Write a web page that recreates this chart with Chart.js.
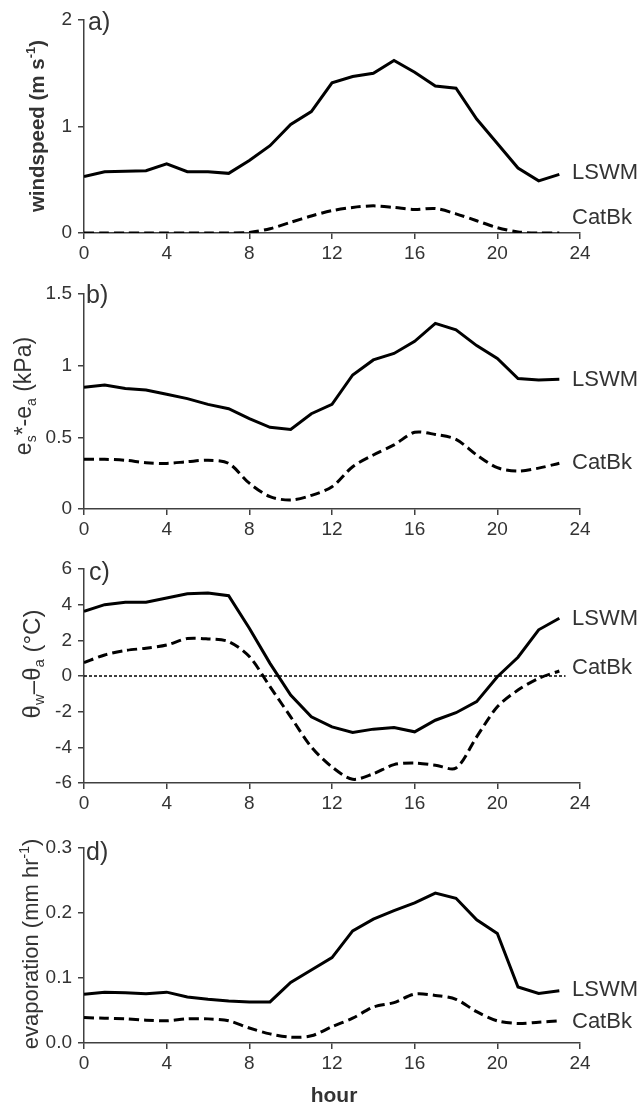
<!DOCTYPE html>
<html>
<head>
<meta charset="utf-8">
<script src="https://cdn.jsdelivr.net/npm/chart.js@4/dist/chart.umd.min.js"></script>
<style>
  body { margin: 0; background: #fff; width: 644px; height: 1108px; position: relative; overflow: hidden; }
  canvas { position: absolute; left: 0; }
</style>
</head>
<body>
<canvas id="pa" width="644" height="270" style="top:0px"></canvas>
<canvas id="pb" width="644" height="280" style="top:270px"></canvas>
<canvas id="pc" width="644" height="280" style="top:550px"></canvas>
<canvas id="pd" width="644" height="278" style="top:830px"></canvas>
<script>
// ========== DATA ==========
const hours = [0, 1, 2, 3, 4, 5, 6, 7, 8, 9, 10, 11, 12, 13, 14, 15, 16, 17, 18, 19, 20, 21, 22, 23];
const hourTicks = [0, 4, 8, 12, 16, 20, 24];

// a) windspeed (m s-1)
const windLSWM = [0.53, 0.575, 0.58, 0.585, 0.65, 0.575, 0.575, 0.56, 0.68, 0.82, 1.02, 1.14, 1.41, 1.47, 1.50, 1.62, 1.51, 1.38, 1.36, 1.07, 0.84, 0.61, 0.49, 0.55];
const windCatBk = [0, 0, 0, 0, 0, 0, 0, 0, 0.005, 0.04, 0.10, 0.16, 0.21, 0.24, 0.255, 0.24, 0.22, 0.23, 0.18, 0.115, 0.05, 0.01, 0, 0];
const windTicks = [0, 1, 2];

// b) es*-ea (kPa)
const vpdLSWM = [0.85, 0.865, 0.84, 0.83, 0.80, 0.77, 0.73, 0.70, 0.63, 0.57, 0.555, 0.665, 0.73, 0.935, 1.04, 1.085, 1.17, 1.295, 1.25, 1.14, 1.05, 0.91, 0.90, 0.905];
const vpdCatBk = [0.347, 0.347, 0.34, 0.323, 0.318, 0.33, 0.34, 0.318, 0.18, 0.086, 0.063, 0.095, 0.155, 0.295, 0.377, 0.447, 0.535, 0.52, 0.486, 0.377, 0.288, 0.265, 0.285, 0.319];
const vpdTicks = [0, 0.5, 1, 1.5];

// c) theta_w - theta_a (°C)
const tempLSWM = [3.62, 4.0, 4.14, 4.14, 4.37, 4.61, 4.65, 4.5, 2.68, 0.71, -1.07, -2.29, -2.85, -3.17, -2.98, -2.89, -3.13, -2.48, -2.06, -1.44, -0.04, 1.05, 2.59, 3.24];
const tempCatBk = [0.75, 1.18, 1.43, 1.56, 1.74, 2.1, 2.08, 1.93, 1.09, -0.6, -2.29, -3.98, -5.1, -5.79, -5.48, -4.97, -4.88, -5.0, -5.16, -3.41, -1.73, -0.79, -0.13, 0.28];
const tempTicks = [-6, -4, -2, 0, 2, 4, 6];
const zeroLineX = [0, 23.3];

// d) evaporation (mm hr-1)
const evapLSWM = [0.0746, 0.078, 0.077, 0.0756, 0.078, 0.0706, 0.067, 0.0645, 0.063, 0.063, 0.093, 0.112, 0.131, 0.172, 0.19, 0.203, 0.215, 0.23, 0.222, 0.189, 0.168, 0.086, 0.076, 0.08];
const evapCatBk = [0.039, 0.038, 0.037, 0.035, 0.034, 0.037, 0.037, 0.034, 0.023, 0.014, 0.009, 0.011, 0.025, 0.038, 0.055, 0.062, 0.075, 0.073, 0.067, 0.048, 0.034, 0.03, 0.032, 0.034];
const evapTicks = [0, 0.1, 0.2, 0.3];

// ========== HELPERS ==========
const FONT = "'Liberation Sans', Arial, sans-serif";
const AXIS = '#404040';
const TEXT = '#333333';

const toPts = arr => hours.map((h, i) => ({ x: h, y: arr[i] }));

const solid = arr => ({
  data: toPts(arr), borderColor: '#000', borderWidth: 3, pointRadius: 0, tension: 0
});
const dashed = arr => ({
  data: toPts(arr), borderColor: '#000', borderWidth: 3, pointRadius: 0,
  borderDash: [10, 5], tension: 0.3
});

// draws text made of parts with sub / superscripts, rotated bottom-to-top
function drawRotatedTitle(ctx, parts, cx, cy, size, weight) {
  ctx.save();
  ctx.translate(cx, cy);
  ctx.rotate(-Math.PI / 2);
  ctx.textBaseline = 'middle';
  ctx.textAlign = 'left';
  const fontFor = p => `${weight} ${p.sub || p.sup ? Math.round(size * 0.62) : size}px ${FONT}`;
  let total = 0;
  parts.forEach(p => { ctx.font = fontFor(p); total += ctx.measureText(p.t).width; });
  let xx = -total / 2;
  parts.forEach(p => {
    ctx.font = fontFor(p);
    let dy = 0;
    if (p.sub) dy = size * 0.3;
    if (p.sup) dy = -size * 0.32;
    ctx.fillText(p.t, xx, dy);
    xx += ctx.measureText(p.t).width;
  });
  ctx.restore();
}

const annot = {
  id: 'annot',
  afterDraw(chart, args, opt) {
    const { ctx, chartArea } = chart;
    const xs = chart.scales.x, ys = chart.scales.y;
    ctx.save();
    ctx.fillStyle = TEXT;
    ctx.textBaseline = 'middle';
    ctx.textAlign = 'left';

    // panel letter
    ctx.font = `25px ${FONT}`;
    ctx.fillText(opt.letter, chartArea.left + opt.letterDx, chartArea.top + opt.letterDy);

    // series names at the right end
    ctx.font = `22px ${FONT}`;
    opt.names.forEach(n => {
      ctx.fillText(n.text, xs.getPixelForValue(24) - 8, ys.getPixelForValue(n.at));
    });

    // y title
    drawRotatedTitle(ctx, opt.title, opt.titleX, opt.titleY, opt.titleSize, opt.titleWeight);

    // x title
    if (opt.xTitle) {
      ctx.font = `bold 21px ${FONT}`;
      ctx.textAlign = 'center';
      ctx.fillText(opt.xTitle, (chartArea.left + chartArea.right) / 2 + 2, chartArea.bottom + 53);
    }
    ctx.restore();
  }
};

function makePanel(id, p) {
  return new Chart(document.getElementById(id), {
    type: 'line',
    data: { datasets: p.datasets },
    options: {
      responsive: false,
      animation: false,
      layout: { padding: { top: p.top, right: 64, left: 0, bottom: 0 } },
      plugins: { legend: { display: false }, tooltip: { enabled: false }, annot: p.annot },
      scales: {
        x: {
          type: 'linear', min: 0, max: 24,
          afterBuildTicks: s => { s.ticks = hourTicks.map(v => ({ value: v })); },
          afterFit: s => { s.height = p.xh; },
          grid: { drawOnChartArea: false, drawTicks: true, tickLength: 6, color: AXIS, lineWidth: 1.5 },
          border: { color: AXIS, width: 1.5 },
          ticks: { font: { size: 19, family: FONT }, color: TEXT, padding: 3, maxRotation: 0 }
        },
        y: {
          min: p.yMin, max: p.yMax,
          afterBuildTicks: s => { s.ticks = p.yTicks.map(v => ({ value: v })); },
          afterFit: s => { s.width = 84; },
          grid: { drawOnChartArea: false, drawTicks: true, tickLength: 6, color: AXIS, lineWidth: 1.5 },
          border: { color: AXIS, width: 1.5 },
          ticks: {
            font: { size: 19, family: FONT }, color: TEXT, padding: 6,
            callback: p.yFmt || (v => String(v))
          }
        }
      }
    },
    plugins: [annot]
  });
}

// ========== PANELS ==========
makePanel('pa', {
  top: 20, xh: 37, yMin: 0, yMax: 2, yTicks: windTicks,
  datasets: [solid(windLSWM), dashed(windCatBk)],
  annot: {
    letter: 'a)', letterDx: 4, letterDy: 3,
    names: [{ text: 'LSWM', at: 0.56 }, { text: 'CatBk', at: 0.14 }],
    title: [{ t: 'windspeed (m s' }, { t: '-1', sup: true }, { t: ')' }],
    titleX: 38, titleY: 126, titleSize: 20.5, titleWeight: 'bold'
  }
});

makePanel('pb', {
  top: 24, xh: 41, yMin: 0, yMax: 1.5, yTicks: vpdTicks,
  datasets: [solid(vpdLSWM), dashed(vpdCatBk)],
  annot: {
    letter: 'b)', letterDx: 2, letterDy: 2,
    names: [{ text: 'LSWM', at: 0.90 }, { text: 'CatBk', at: 0.32 }],
    title: [{ t: 'e' }, { t: 's', sub: true }, { t: '*-e' }, { t: 'a', sub: true }, { t: ' (kPa)' }],
    titleX: 25, titleY: 126, titleSize: 23, titleWeight: 'normal'
  }
});

makePanel('pc', {
  top: 19, xh: 47, yMin: -6, yMax: 6, yTicks: tempTicks,
  datasets: [
    solid(tempLSWM), dashed(tempCatBk),
    { data: zeroLineX.map(x => ({ x, y: 0 })), borderColor: '#000', borderWidth: 1.5, borderDash: [3, 2], pointRadius: 0 }
  ],
  annot: {
    letter: 'c)', letterDx: 5, letterDy: 4,
    names: [{ text: 'LSWM', at: 3.2 }, { text: 'CatBk', at: 0.43 }],
    title: [{ t: 'θ' }, { t: 'w', sub: true }, { t: '–θ' }, { t: 'a', sub: true }, { t: ' (°C)' }],
    titleX: 33, titleY: 114, titleSize: 24, titleWeight: 'normal'
  }
});

makePanel('pd', {
  top: 15, xh: 65, yMin: 0, yMax: 0.3, yTicks: evapTicks, yFmt: v => v.toFixed(1),
  datasets: [solid(evapLSWM), dashed(evapCatBk)],
  annot: {
    letter: 'd)', letterDx: 2, letterDy: 6,
    names: [{ text: 'LSWM', at: 0.081 }, { text: 'CatBk', at: 0.033 }],
    title: [{ t: 'evaporation (mm hr' }, { t: '-1', sup: true }, { t: ')' }],
    titleX: 32, titleY: 114, titleSize: 22, titleWeight: 'normal',
    xTitle: 'hour'
  }
});
</script>
</body>
</html>
